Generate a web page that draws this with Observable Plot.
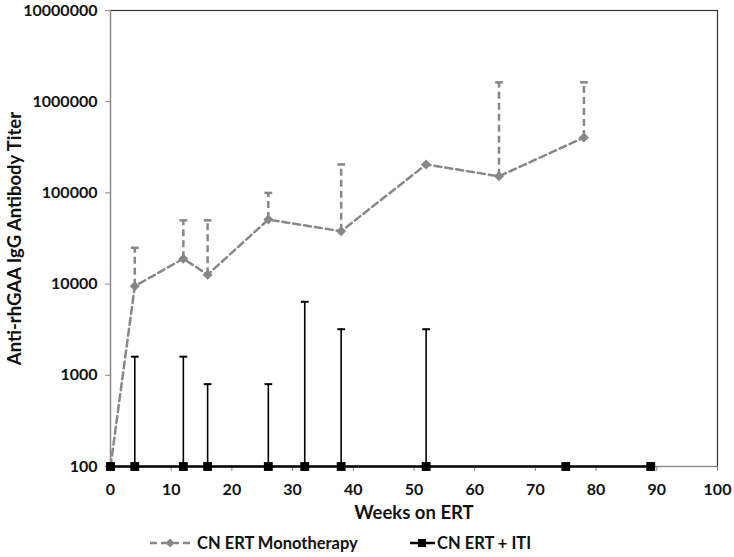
<!DOCTYPE html>
<html>
<head>
<meta charset="utf-8">
<script src="https://cdn.jsdelivr.net/npm/d3@7"></script>
<script src="https://cdn.jsdelivr.net/npm/@observablehq/plot@0.6"></script>
<style>
  body { margin: 0; background: #fff; font-family: Lato, "Open Sans", sans-serif; }
  #wrap { position: relative; width: 734px; height: 557px; }
  #legend { position: absolute; left: 0; top: 530px; width: 734px; height: 26px; font-weight: bold; font-size: 16.5px; color: #111; }
  .item { position: absolute; top: 0; display: flex; align-items: center; height: 26px; }
</style>
</head>
<body>
<div id="wrap">
  <div id="chart"></div>
  <div id="legend">
    <div class="item" style="left:150px">
      <svg width="44" height="12"><line x1="0" y1="6" x2="40" y2="6" stroke="#888" stroke-width="2.5" stroke-dasharray="7,4"/><path d="M20,1.5 L24.5,6 L20,10.5 L15.5,6 Z" fill="#888"/></svg>
      <span style="margin-left:3px">CN ERT Monotherapy</span>
    </div>
    <div class="item" style="left:410px">
      <svg width="26" height="12"><line x1="0" y1="6" x2="25" y2="6" stroke="#000" stroke-width="2.5"/><rect x="8" y="2" width="8" height="8" fill="#000"/></svg>
      <span style="margin-left:1px">CN ERT + ITI</span>
    </div>
  </div>
</div>
<script>
// Data
const monoWeeks  = [0, 4, 12, 16, 26, 38, 52, 64, 78];
const monoTiter  = [100, 9500, 19000, 12700, 51000, 38000, 205000, 152000, 405000];
const monoUpper  = [null, 25000, 50000, 50000, 100000, 205000, null, 1630000, 1630000];

const itiWeeks   = [0, 4, 12, 16, 26, 32, 38, 52, 75, 89];
const itiTiter   = [100, 100, 100, 100, 100, 100, 100, 100, 100, 100];
const itiUpper   = [null, 1600, 1600, 800, 800, 6400, 3200, 3200, null, null];

const xTicks = [0, 10, 20, 30, 40, 50, 60, 70, 80, 90, 100];
const yTicks = [100, 1000, 10000, 100000, 1000000, 10000000];

const mono = monoWeeks.map((w, i) => ({week: w, titer: monoTiter[i], upper: monoUpper[i]}));
const iti  = itiWeeks.map((w, i) => ({week: w, titer: itiTiter[i], upper: itiUpper[i]}));
const monoErr = mono.filter(d => d.upper != null);
const itiErr  = iti.filter(d => d.upper != null);

const cap = {draw(ctx, size) { const r = Math.sqrt(size); ctx.moveTo(-r, 0); ctx.lineTo(r, 0); }};

const gray = "#878787";

const chart = Plot.plot({
  width: 734,
  height: 530,
  marginLeft: 110,
  marginRight: 17,
  marginTop: 10,
  marginBottom: 64,
  style: {fontFamily: "Lato, 'Open Sans', sans-serif", fontWeight: "bold", fontSize: "16px", color: "#111", background: "#fff"},
  x: {domain: [0, 100], ticks: xTicks, label: null},
  y: {type: "log", domain: [100, 10000000], ticks: yTicks, tickFormat: d3.format("d"), label: null},
  marks: [
    Plot.frame({stroke: "#333", strokeWidth: 1.2}),
    Plot.ruleX([xTicks[0]], {stroke: gray, strokeWidth: 1.2}),
    Plot.axisY({ticks: yTicks, tickFormat: d3.format("d"), tickSize: 5, tickPadding: 8, stroke: gray, fontSize: 16, fontWeight: "bold", label: null}),
    Plot.axisX({ticks: xTicks, tickSize: 5, tickPadding: 12, stroke: gray, fontSize: 16, fontWeight: "bold", label: null}),
    Plot.ruleY([yTicks[0]], {stroke: gray, strokeWidth: 1.2}),
    // Monotherapy error bars
    Plot.ruleX(monoErr, {x: "week", y1: "titer", y2: "upper", stroke: gray, strokeWidth: 2.5, strokeDasharray: "7,4"}),
    Plot.dot(monoErr, {x: "week", y: "upper", symbol: cap, r: 2.2, stroke: gray, strokeWidth: 2.5}),
    // ITI error bars
    Plot.ruleX(itiErr, {x: "week", y1: "titer", y2: "upper", stroke: "#000", strokeWidth: 1.6}),
    Plot.dot(itiErr, {x: "week", y: "upper", symbol: cap, r: 2.2, stroke: "#000", strokeWidth: 2}),
    // Lines
    Plot.line(mono, {x: "week", y: "titer", stroke: gray, strokeWidth: 2.5, strokeDasharray: "7,4"}),
    Plot.dot(mono, {x: "week", y: "titer", symbol: "diamond2", r: 4.5, fill: gray, stroke: null}),
    Plot.line(iti, {x: "week", y: "titer", stroke: "#000", strokeWidth: 2.5}),
    Plot.dot(iti, {x: "week", y: "titer", symbol: "square", r: 5, fill: "#000", stroke: null}),
    // Axis titles
    Plot.text(["Weeks on ERT"], {frameAnchor: "bottom", dy: 52, fontSize: 18.5, fontWeight: "bold", fill: "#111"}),
    Plot.text(["Anti-rhGAA IgG Antibody Titer"], {frameAnchor: "left", dx: -95, rotate: -90, textAnchor: "middle", fontSize: 18.5, fontWeight: "bold", fill: "#111"})
  ]
});
document.getElementById("chart").appendChild(chart);
</script>
</body>
</html>
